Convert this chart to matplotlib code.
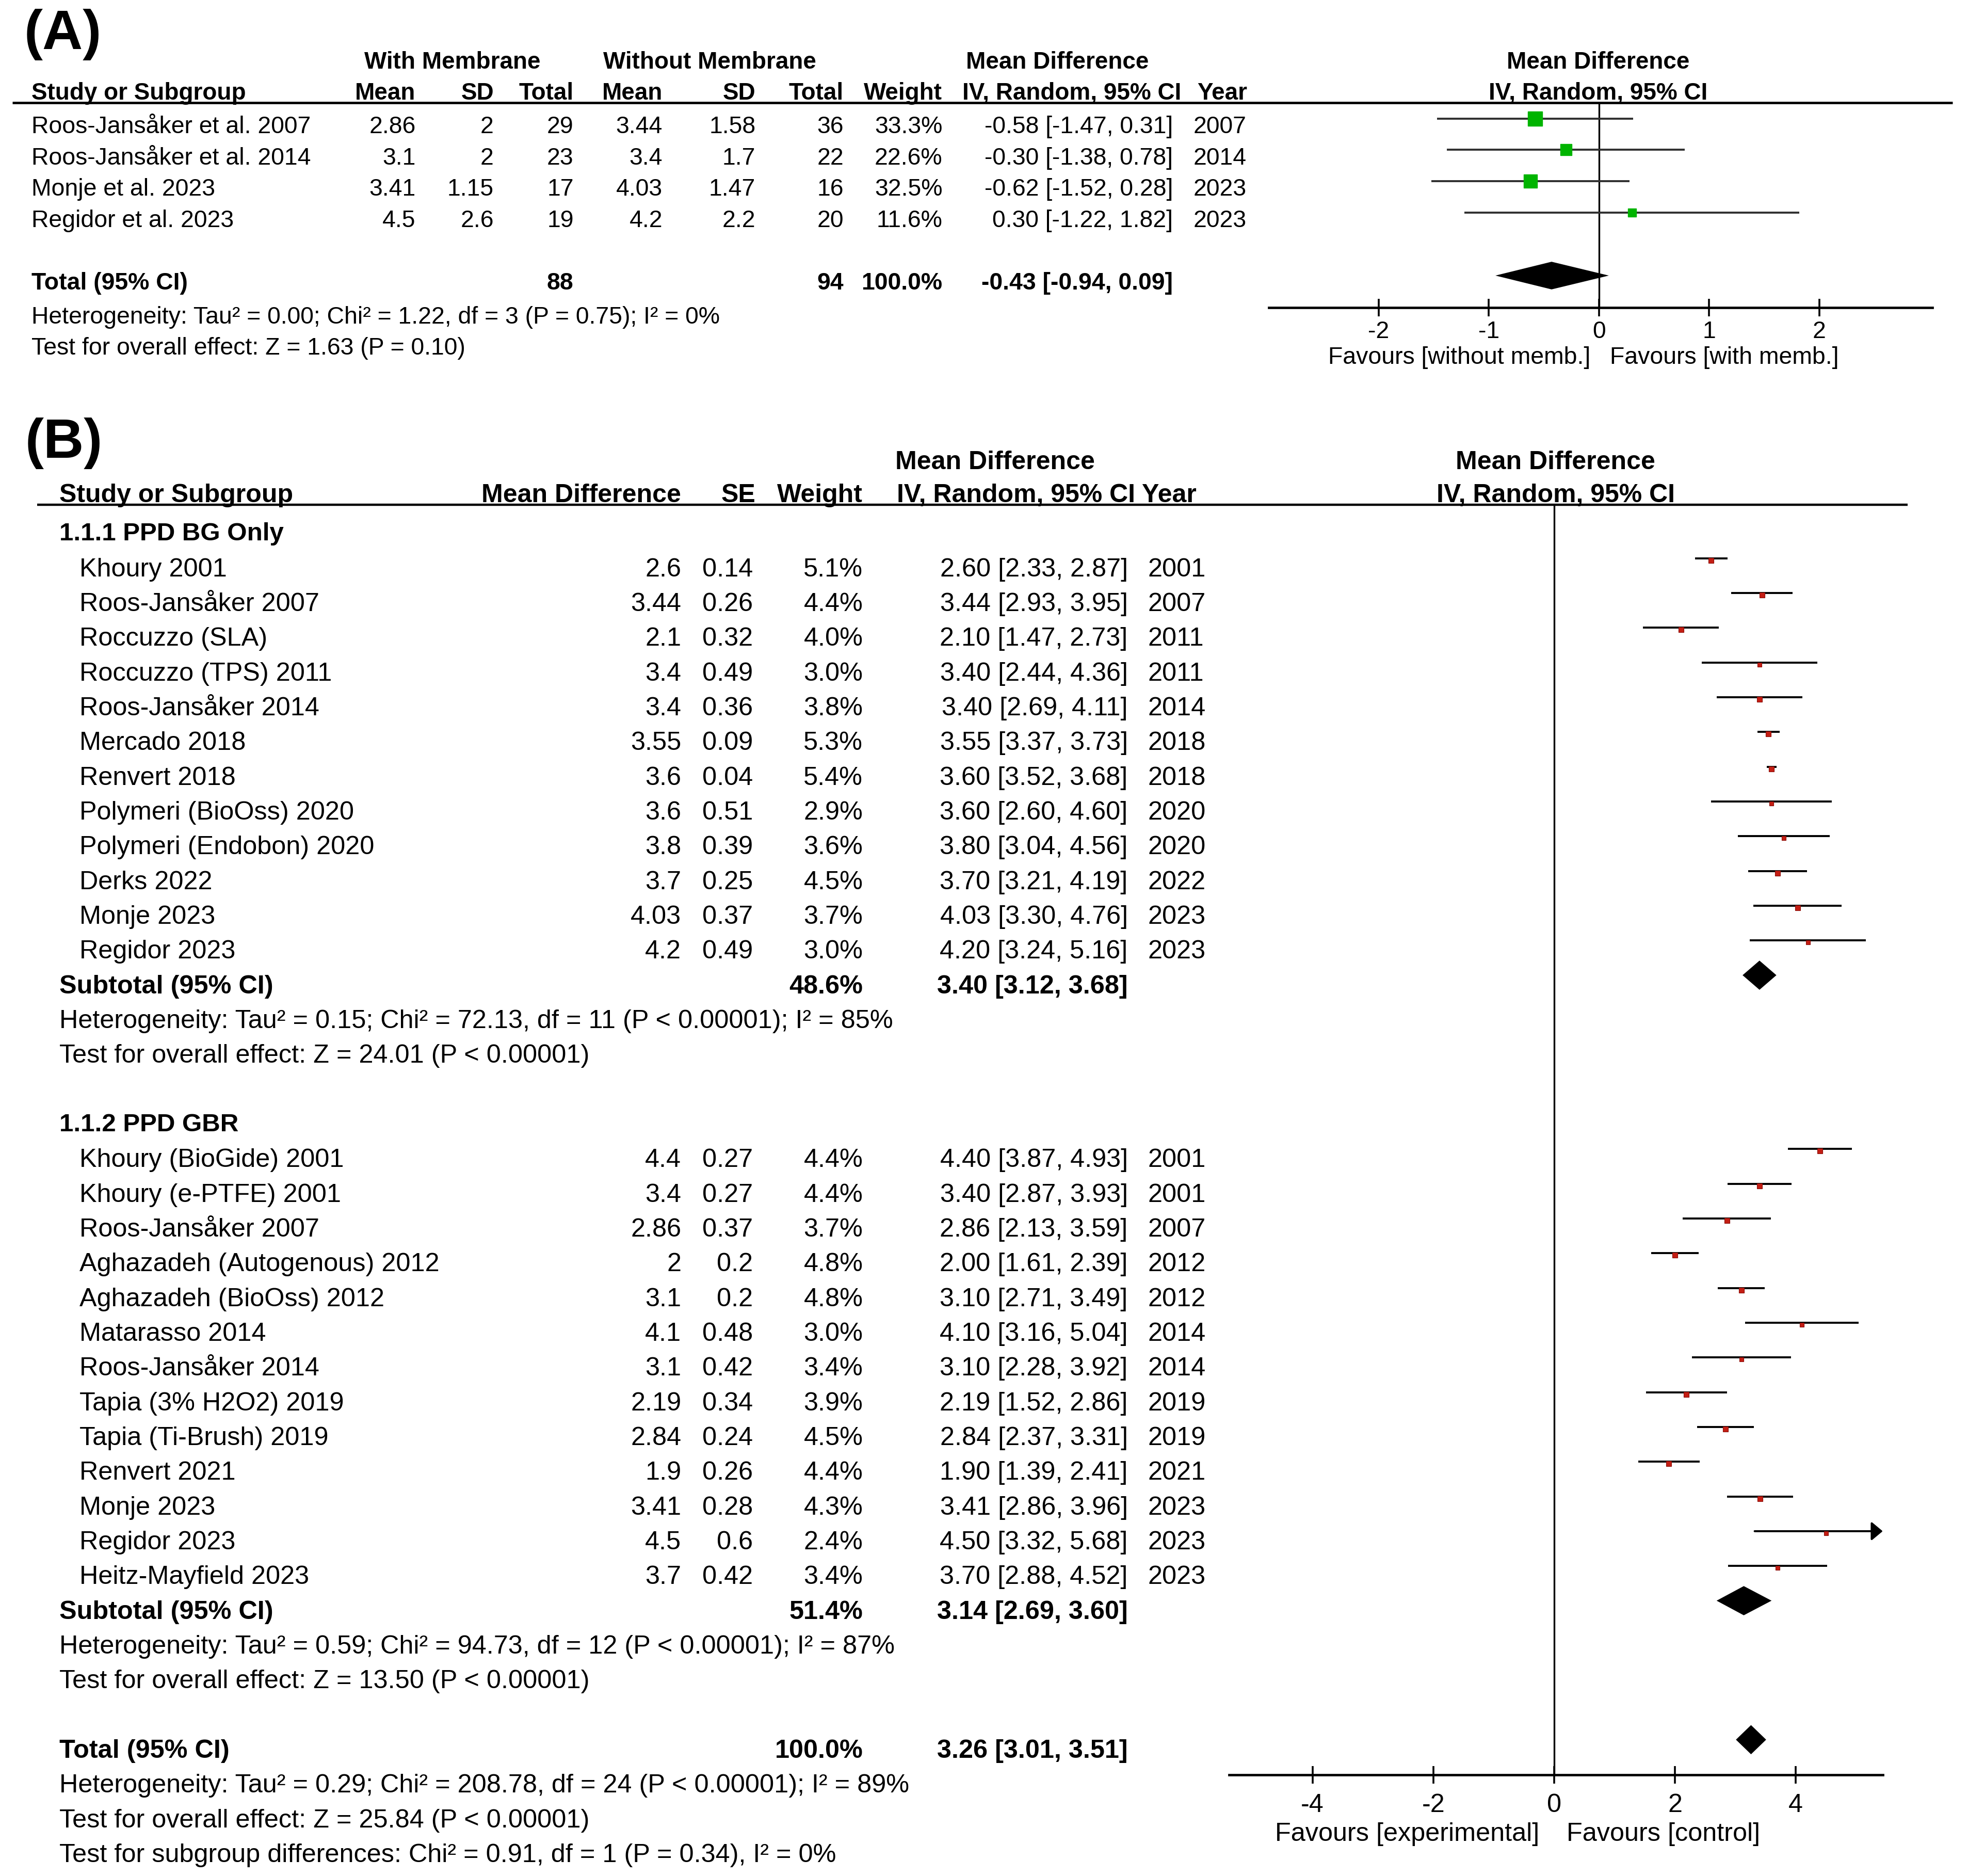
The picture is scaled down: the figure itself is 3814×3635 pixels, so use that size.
import matplotlib
matplotlib.use("Agg")
import matplotlib.pyplot as plt
import numpy as np

plt.rcParams['font.family'] = ['Liberation Sans', 'DejaVu Sans']
plt.rcParams['axes.unicode_minus'] = False

# ---------------- panel A data (membrane vs no membrane)
studies_a = ["Roos-Jansåker et al. 2007", "Roos-Jansåker et al. 2014",
             "Monje et al. 2023", "Regidor et al. 2023"]
mean_with = [2.86, 3.1, 3.41, 4.5]
sd_with = [2, 2, 1.15, 2.6]
n_with = [29, 23, 17, 19]
mean_wo = [3.44, 3.4, 4.03, 4.2]
sd_wo = [1.58, 1.7, 1.47, 2.2]
n_wo = [36, 22, 16, 20]
weight_a = [33.3, 22.6, 32.5, 11.6]
md_a = [-0.58, -0.30, -0.62, 0.30]
lo_a = [-1.47, -1.38, -1.52, -1.22]
hi_a = [0.31, 0.78, 0.28, 1.82]
year_a = [2007, 2014, 2023, 2023]
total_a = (-0.43, -0.94, 0.09)
ticks_a = [-2, -1, 0, 1, 2]

# ---------------- panel B data (subgroups)
names_bg = ["Khoury 2001", "Roos-Jansåker 2007", "Roccuzzo (SLA)", "Roccuzzo (TPS) 2011",
            "Roos-Jansåker 2014", "Mercado 2018", "Renvert 2018", "Polymeri (BioOss) 2020",
            "Polymeri (Endobon) 2020", "Derks 2022", "Monje 2023", "Regidor 2023"]
md_bg = [2.6, 3.44, 2.1, 3.4, 3.4, 3.55, 3.6, 3.6, 3.8, 3.7, 4.03, 4.2]
se_bg = [0.14, 0.26, 0.32, 0.49, 0.36, 0.09, 0.04, 0.51, 0.39, 0.25, 0.37, 0.49]
w_bg = [5.1, 4.4, 4.0, 3.0, 3.8, 5.3, 5.4, 2.9, 3.6, 4.5, 3.7, 3.0]
lo_bg = [2.33, 2.93, 1.47, 2.44, 2.69, 3.37, 3.52, 2.60, 3.04, 3.21, 3.30, 3.24]
hi_bg = [2.87, 3.95, 2.73, 4.36, 4.11, 3.73, 3.68, 4.60, 4.56, 4.19, 4.76, 5.16]
yr_bg = [2001, 2007, 2011, 2011, 2014, 2018, 2018, 2020, 2020, 2022, 2023, 2023]

names_gbr = ["Khoury (BioGide) 2001", "Khoury (e-PTFE) 2001", "Roos-Jansåker 2007",
             "Aghazadeh (Autogenous) 2012", "Aghazadeh (BioOss) 2012", "Matarasso 2014",
             "Roos-Jansåker 2014", "Tapia (3% H2O2) 2019", "Tapia (Ti-Brush) 2019",
             "Renvert 2021", "Monje 2023", "Regidor 2023", "Heitz-Mayfield 2023"]
md_gbr = [4.4, 3.4, 2.86, 2, 3.1, 4.1, 3.1, 2.19, 2.84, 1.9, 3.41, 4.5, 3.7]
se_gbr = [0.27, 0.27, 0.37, 0.2, 0.2, 0.48, 0.42, 0.34, 0.24, 0.26, 0.28, 0.6, 0.42]
w_gbr = [4.4, 4.4, 3.7, 4.8, 4.8, 3.0, 3.4, 3.9, 4.5, 4.4, 4.3, 2.4, 3.4]
lo_gbr = [3.87, 2.87, 2.13, 1.61, 2.71, 3.16, 2.28, 1.52, 2.37, 1.39, 2.86, 3.32, 2.88]
hi_gbr = [4.93, 3.93, 3.59, 2.39, 3.49, 5.04, 3.92, 2.86, 3.31, 2.41, 3.96, 5.68, 4.52]
yr_gbr = [2001, 2001, 2007, 2012, 2012, 2014, 2014, 2019, 2019, 2021, 2023, 2023, 2023]

sub_bg = (48.6, 3.40, 3.12, 3.68)
sub_gbr = (51.4, 3.14, 2.69, 3.60)
total_b = (100.0, 3.26, 3.01, 3.51)
ticks_b = [-4, -2, 0, 2, 4]

# layout grid = reference scaled to 1560 wide
W, H = 1560, 1486.8
fig = plt.figure(figsize=(38.14, 36.35), dpi=100)
tx = fig.add_axes([0, 0, 1, 1])
tx.set_xlim(0, W)
tx.set_ylim(H, 0)
tx.axis('off')


def put(x, y, s, ha='left', size=33, bold=False):
    tx.text(x, y, s, ha=ha, va='baseline', fontsize=size,
            fontweight='bold' if bold else 'normal')


def forest_axes(x0, x1, y0, y1):
    ax = fig.add_axes([x0 / W, 1 - y1 / H, (x1 - x0) / W, (y1 - y0) / H])
    for s in ('left', 'right', 'top'):
        ax.spines[s].set_visible(False)
    ax.spines['bottom'].set_linewidth(3.4)
    ax.set_yticks([])
    ax.patch.set_alpha(0)
    return ax


def ci_txt(m, l, h):
    return f"{m:.2f} [{l:.2f}, {h:.2f}]"


# ================= panel A =================
put(19, 39, "(A)", size=78, bold=True)
FA = 33.4
HA = 33
put(358.8, 54.5, "With Membrane", ha='center', size=HA, bold=True)
put(562.7, 54.5, "Without Membrane", ha='center', size=HA, bold=True)
put(838, 54.5, "Mean Difference", ha='center', size=HA, bold=True)
put(1266.7, 54.5, "Mean Difference", ha='center', size=HA, bold=True)
hdr_y = 79
put(25, hdr_y, "Study or Subgroup", size=HA, bold=True)
for x, s in [(329.5, "Mean"), (391.4, "SD"), (454.7, "Total"), (525.2, "Mean"),
             (598.9, "SD"), (668.7, "Total"), (747, "Weight")]:
    put(x, hdr_y, s, ha='right', size=HA, bold=True)
put(763, hdr_y, "IV, Random, 95% CI", size=HA, bold=True)
put(949, hdr_y, "Year", size=HA, bold=True)
put(1266.7, hdr_y, "IV, Random, 95% CI", ha='center', size=HA, bold=True)
tx.hlines(81.2, 9.8, 1547.7, color='black', lw=3.4)

ya0, ya_step = 93.9, 24.9
for i in range(len(studies_a)):
    yb = ya0 + ya_step * i + 11.5
    put(25, yb, studies_a[i], size=FA)
    put(329.5, yb, f"{mean_with[i]:g}", ha='right', size=FA)
    put(391.4, yb, f"{sd_with[i]:g}", ha='right', size=FA)
    put(454.7, yb, str(n_with[i]), ha='right', size=FA)
    put(525.2, yb, f"{mean_wo[i]:g}", ha='right', size=FA)
    put(598.9, yb, f"{sd_wo[i]:g}", ha='right', size=FA)
    put(668.7, yb, str(n_wo[i]), ha='right', size=FA)
    put(747, yb, f"{weight_a[i]:.1f}%", ha='right', size=FA)
    put(929.7, yb, ci_txt(md_a[i], lo_a[i], hi_a[i]), ha='right', size=FA)
    put(946, yb, str(year_a[i]), size=FA)

yb = ya0 + ya_step * 5 + 11
put(25, yb, "Total (95% CI)", size=FA, bold=True)
put(454.7, yb, str(sum(n_with)), ha='right', size=FA, bold=True)
put(668.7, yb, str(sum(n_wo)), ha='right', size=FA, bold=True)
put(747, yb, "100.0%", ha='right', size=FA, bold=True)
put(929.7, yb, ci_txt(*total_a), ha='right', size=FA, bold=True)
put(25, 256.3, "Heterogeneity: Tau² = 0.00; Chi² = 1.22, df = 3 (P = 0.75); I² = 0%", size=FA)
put(25, 280.8, "Test for overall effect: Z = 1.63 (P = 0.10)", size=FA)

axa = forest_axes(1005.6, 1531.9, 81.2, 243.8)
axa.set_xlim(-3.0, 3.03)
axa.set_ylim((243.8 - ya0) / ya_step, (81.2 - ya0) / ya_step)
axa.axvline(0, color='black', lw=2.4)
rows_a = np.arange(len(studies_a))
axa.hlines(rows_a, lo_a, hi_a, color='#303030', lw=2.8)
for r, m, w in zip(rows_a, md_a, weight_a):
    axa.plot(m, r, 's', ms=3.37 * np.sqrt(w), color='#00B400', zorder=3)
m, l, h = total_a
axa.fill([l, m, h, m], [5, 5 - 0.44, 5, 5 + 0.44], color='black', lw=0, zorder=3)
axa.set_xticks(ticks_a)
axa.set_xticklabels([str(t) for t in ticks_a])
axa.tick_params(axis='x', direction='inout', length=24, width=2.6, pad=6, labelsize=FA)
put(1156.7, 288.3, "Favours [without memb.]", ha='center', size=FA)
put(1367, 288.3, "Favours [with memb.]", ha='center', size=FA)

# ================= panel B =================
FB = 36.3
HB = 36
put(20, 362.8, "(B)", size=78, bold=True)
put(788.7, 372, "Mean Difference", ha='center', size=HB, bold=True)
put(1233, 372, "Mean Difference", ha='center', size=HB, bold=True)
hb = 398
put(47, hb, "Study or Subgroup", size=HB, bold=True)
put(540, hb, "Mean Difference", ha='right', size=HB, bold=True)
put(599, hb, "SE", ha='right', size=HB, bold=True)
put(684, hb, "Weight", ha='right', size=HB, bold=True)
put(711, hb, "IV, Random, 95% CI Year", size=HB, bold=True)
put(1233, hb, "IV, Random, 95% CI", ha='center', size=HB, bold=True)
tx.hlines(400, 29.4, 1512, color='black', lw=3.2)

yb0, yb_step = 442.4, 27.54


def base_b(r):
    return yb0 + yb_step * r + 14.4


def study_rows(r0, names, md, se, w, lo, hi, yr):
    for i in range(len(names)):
        y = base_b(r0 + i)
        put(63, y, names[i], size=FB)
        put(540, y, f"{md[i]:g}", ha='right', size=FB)
        put(597, y, f"{se[i]:g}", ha='right', size=FB)
        put(684, y, f"{w[i]:.1f}%", ha='right', size=FB)
        put(894, y, ci_txt(md[i], lo[i], hi[i]), ha='right', size=FB)
        put(910, y, str(yr[i]), size=FB)


def summary_rows(r, label, vals, het, test):
    y = base_b(r)
    put(47, y, label, size=FB, bold=True)
    put(684, y, f"{vals[0]:.1f}%", ha='right', size=FB, bold=True)
    put(894, y, ci_txt(*vals[1:]), ha='right', size=FB, bold=True)
    put(47, base_b(r + 1), het, size=FB)
    put(47, base_b(r + 2), test, size=FB)


put(47, base_b(-1) - 1, "1.1.1 PPD BG Only", size=35.5, bold=True)
study_rows(0, names_bg, md_bg, se_bg, w_bg, lo_bg, hi_bg, yr_bg)
summary_rows(12, "Subtotal (95% CI)", sub_bg,
             "Heterogeneity: Tau² = 0.15; Chi² = 72.13, df = 11 (P < 0.00001); I² = 85%",
             "Test for overall effect: Z = 24.01 (P < 0.00001)")
put(47, base_b(16) - 1, "1.1.2 PPD GBR", size=35.5, bold=True)
study_rows(17, names_gbr, md_gbr, se_gbr, w_gbr, lo_gbr, hi_gbr, yr_gbr)
summary_rows(30, "Subtotal (95% CI)", sub_gbr,
             "Heterogeneity: Tau² = 0.59; Chi² = 94.73, df = 12 (P < 0.00001); I² = 87%",
             "Test for overall effect: Z = 13.50 (P < 0.00001)")
summary_rows(34, "Total (95% CI)", total_b,
             "Heterogeneity: Tau² = 0.29; Chi² = 208.78, df = 24 (P < 0.00001); I² = 89%",
             "Test for overall effect: Z = 25.84 (P < 0.00001)")
put(47, base_b(37), "Test for subgroup differences: Chi² = 0.91, df = 1 (P = 0.34), I² = 0%", size=FB)

axb = forest_axes(974.3, 1492.4, 400, 1406.7)
xmin_b, xmax_b = -5.38, 5.44
axb.set_xlim(xmin_b, xmax_b)
axb.set_ylim((1406.7 - yb0) / yb_step, (400 - yb0) / yb_step)
axb.axvline(0, color='black', lw=2.4)

all_rows = list(range(0, 12)) + list(range(17, 30))
all_md = md_bg + md_gbr
all_lo = lo_bg + lo_gbr
all_hi = hi_bg + hi_gbr
all_w = w_bg + w_gbr
for r, m, l, h, w in zip(all_rows, all_md, all_lo, all_hi, all_w):
    if h > xmax_b:
        axb.annotate('', xy=(xmax_b, r), xytext=(l, r),
                     arrowprops=dict(arrowstyle='-|>,head_length=0.6,head_width=0.5',
                                     lw=2.8, color='black', mutation_scale=22,
                                     shrinkA=0, shrinkB=0))
    else:
        axb.hlines(r, l, h, color='black', lw=2.8)
    axb.plot(m, r + 0.06, 's', ms=3.37 * np.sqrt(w), color='#C41E14', mec='#8A0F0A',
             mew=0.8, zorder=3)

for r, vals in [(12, sub_bg), (30, sub_gbr), (34, total_b)]:
    _, m, l, h = vals
    axb.fill([l, m, h, m], [r, r - 0.42, r, r + 0.42], color='black', lw=0, zorder=3)

axb.set_xticks(ticks_b)
axb.set_xticklabels([str(t) for t in ticks_b])
axb.tick_params(axis='x', direction='inout', length=25, width=2.6, pad=13, labelsize=FB)
put(1115.4, 1459, "Favours [experimental]", ha='center', size=FB)
put(1318.5, 1459, "Favours [control]", ha='center', size=FB)

fig.savefig("out.png", dpi=100, facecolor='white')
